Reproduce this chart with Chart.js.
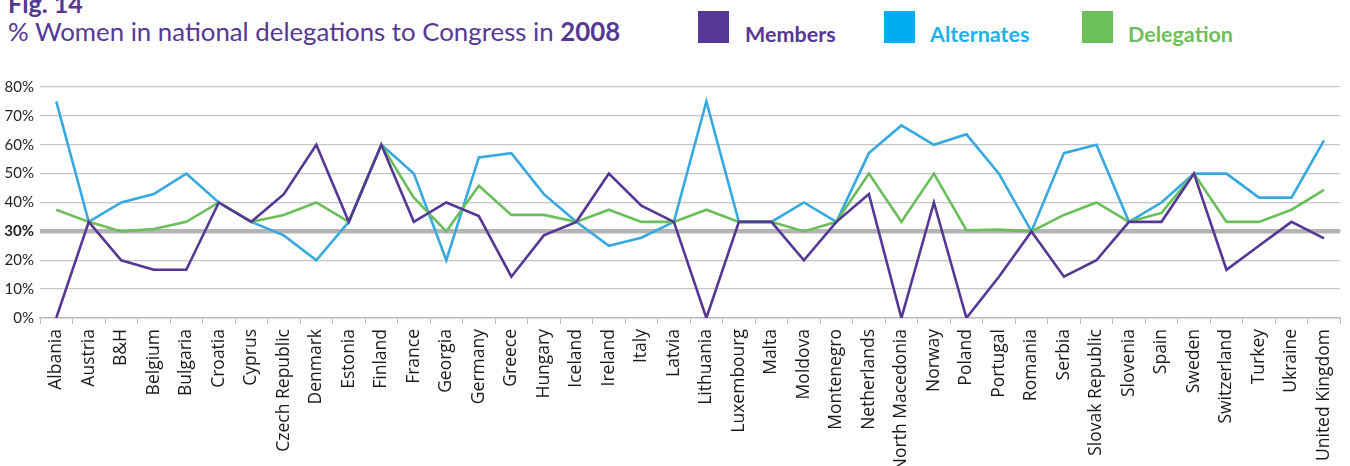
<!DOCTYPE html>
<html>
<head>
<meta charset="utf-8">
<script src="https://cdn.jsdelivr.net/npm/chart.js@4.4.1/dist/chart.umd.min.js"></script>
<style>
    body { margin: 0; background: #fff; overflow: hidden; }
    #wrap { position: relative; width: 1350px; height: 466px; }
    #fig { position: absolute; left: 8px; top: -12px; font: bold 25px Lato, sans-serif; color: #563795; }
    #title { position: absolute; left: 8px; top: 16px; font: 25.8px Lato, sans-serif; color: #563795; white-space: nowrap; }
    .key { position: absolute; top: 11px; width: 31px; height: 32px; }
    .keyText { position: absolute; top: 21px; font: bold 21.5px Lato, sans-serif; white-space: nowrap; }
    canvas { position: absolute; left: 0; top: 0; }
</style>
</head>
<body>
<div id="wrap">
    <div id="fig">Fig. 14</div>
    <div id="title">% Women in national delegations to Congress in <b>2008</b></div>
    <div class="key" style="left:698px;background:#563795"></div>
    <div class="keyText" style="left:745px;color:#563795">Members</div>
    <div class="key" style="left:884px;background:#00aeef"></div>
    <div class="keyText" style="left:930px;color:#1fb0ec">Alternates</div>
    <div class="key" style="left:1082px;background:#6dbf5c"></div>
    <div class="keyText" style="left:1128px;color:#6dbf5c">Delegation</div>
    <canvas id="chart" width="1350" height="466"></canvas>
</div>
<script>
const countries = ['Albania', 'Austria', 'B&H', 'Belgium', 'Bulgaria', 'Croatia', 'Cyprus', 'Czech Republic',
    'Denmark', 'Estonia', 'Finland', 'France', 'Georgia', 'Germany', 'Greece', 'Hungary', 'Iceland', 'Ireland',
    'Italy', 'Latvia', 'Lithuania', 'Luxembourg', 'Malta', 'Moldova', 'Montenegro', 'Netherlands',
    'North Macedonia', 'Norway', 'Poland', 'Portugal', 'Romania', 'Serbia', 'Slovak Republic', 'Slovenia',
    'Spain', 'Sweden', 'Switzerland', 'Turkey', 'Ukraine', 'United Kingdom'];

const members = [0, 33.3, 20, 16.7, 16.7, 40, 33.3, 42.9, 60, 33.3, 60, 33.3, 40, 35.3, 14.3, 28.6, 33.3, 50,
    38.9, 33.3, 0, 33.3, 33.3, 20, 33.3, 42.9, 0, 40, 0, 14.3, 30, 14.3, 20, 33.3, 33.3, 50, 16.7, 25, 33.3, 27.6];

const alternates = [75, 33.3, 40, 42.9, 50, 40, 33.3, 28.6, 20, 33.3, 60, 50, 20, 55.6, 57.1, 42.9, 33.3, 25,
    27.8, 33.3, 75, 33.3, 33.3, 40, 33.3, 57.1, 66.7, 60, 63.6, 50, 30, 57.1, 60, 33.3, 40, 50, 50, 41.7, 41.7, 61.5];

const delegation = [37.5, 33.3, 30, 30.8, 33.3, 40, 33.3, 35.7, 40, 33.3, 60, 41.7, 30, 45.8, 35.7, 35.7, 33.3,
    37.5, 33.3, 33.3, 37.5, 33.3, 33.3, 30, 33.3, 50, 33.3, 50, 30.4, 30.6, 30, 35.7, 40, 33.3, 36.4, 50, 33.3,
    33.3, 37.5, 44.4];

const yTicks = [0, 10, 20, 30, 40, 50, 60, 70, 80];

function makeLine(label, data, color, order) {
    return {
        label: label,
        data: data,
        borderColor: color,
        backgroundColor: color,
        borderWidth: 2.6,
        pointRadius: 0,
        tension: 0,
        fill: false,
        order: order
    };
}

new Chart(document.getElementById('chart').getContext('2d'), {
    type: 'line',
    data: {
        labels: countries,
        datasets: [
            makeLine('Members', members, '#553896', 1),
            makeLine('Alternates', alternates, '#36a9e0', 3),
            makeLine('Delegation', delegation, '#6abf5a', 2)
        ]
    },
    options: {
        responsive: false,
        animation: false,
        layout: { padding: { top: 87, right: 0, left: 0, bottom: 0 } },
        plugins: {
            legend: { display: false },
            tooltip: { enabled: false }
        },
        scales: {
            x: {
                offset: true,
                afterFit: (scale) => { scale.height = 148; },
                grid: {
                    offset: true,
                    drawOnChartArea: false,
                    drawTicks: true,
                    tickLength: 6,
                    color: '#bdbdbd'
                },
                border: { display: true, color: '#bdbdbd', width: 1.5 },
                ticks: {
                    autoSkip: false,
                    minRotation: 90,
                    maxRotation: 90,
                    padding: 5,
                    color: '#1a1a1a',
                    font: { family: 'Open Sans', size: 17.5 }
                }
            },
            y: {
                min: 0,
                max: 80,
                afterFit: (scale) => { scale.width = 40; },
                afterBuildTicks: (scale) => { scale.ticks = yTicks.map(v => ({ value: v })); },
                border: { display: false },
                grid: {
                    drawTicks: false,
                    color: (ctx) => (ctx.tick && ctx.tick.value === 30 ? '#b4b4b4' : '#c6c6c6'),
                    lineWidth: (ctx) => (ctx.tick && ctx.tick.value === 30 ? 4.5 : 1.3)
                },
                ticks: {
                    padding: 6,
                    color: '#231f20',
                    callback: (value) => value + '%',
                    font: (ctx) => ({
                        family: 'Lato',
                        size: 15,
                        weight: ctx.tick && ctx.tick.value === 30 ? 'bold' : 'normal'
                    })
                }
            }
        }
    }
});
</script>
</body>
</html>
